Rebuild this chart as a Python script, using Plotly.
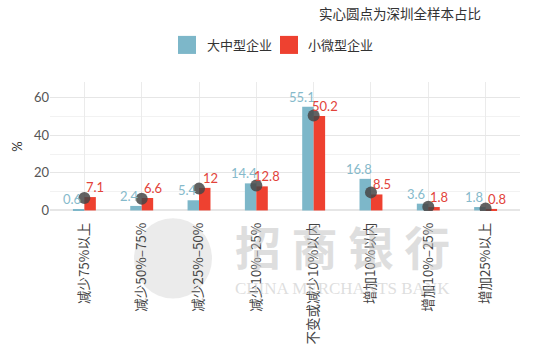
import plotly.graph_objects as go

categories = ["减少75%以上", "减少50%–75%", "减少25%–50%", "减少10%–25%",
              "不变或减少10%以内", "增加10%以内", "增加10%–25%", "增加25%以上"]
large_medium = [0.6, 2.4, 5.4, 14.4, 55.1, 16.8, 3.6, 1.8]
small_micro = [7.1, 6.6, 12.0, 12.8, 50.2, 8.5, 1.8, 0.8]
shenzhen_all = [6.6, 6.2, 11.6, 13.3, 50.5, 9.6, 2.0, 1.0]

BLUE = "#7DB7C9"
RED = "#EE4130"
BLUE_TXT = "#86BACB"
RED_TXT = "#E2433A"

fig = go.Figure()
fig.add_trace(go.Bar(x=categories, y=large_medium, name="大中型企业",
                     marker=dict(color=BLUE, line=dict(width=0)), showlegend=False))
fig.add_trace(go.Bar(x=categories, y=small_micro, name="小微型企业",
                     marker=dict(color=RED, line=dict(width=0)), showlegend=False))
fig.add_trace(go.Scatter(x=categories, y=shenzhen_all, mode="markers",
                         marker=dict(size=12, color="rgba(70,70,70,0.85)"),
                         showlegend=False))

anns = []
for c, v in zip(categories, large_medium):
    anns.append(dict(x=c, y=v, text=f"{v:g}", showarrow=False, xshift=-12, yshift=10,
                     font=dict(family="Lato", size=13, color=BLUE_TXT)))
for c, v in zip(categories, small_micro):
    anns.append(dict(x=c, y=v, text=f"{v:g}", showarrow=False, xshift=11, yshift=10,
                     font=dict(family="Lato", size=13, color=RED_TXT)))

# subtitle
anns.append(dict(xref="paper", yref="paper", x=(483 - 50) / 470, y=1 + (82 - 13) / 128.7,
                 xanchor="right", yanchor="middle", text="实心圆点为深圳全样本占比",
                 showarrow=False, font=dict(family="Noto Sans CJK SC", size=13.5, color="#333")))
# legend text
for xpx, t in [(205, "大中型企业"), (306, "小微型企业")]:
    anns.append(dict(xref="paper", yref="paper", x=(xpx - 50) / 470, y=1 + (82 - 45) / 128.7,
                     xanchor="left", yanchor="middle", text=t, showarrow=False,
                     font=dict(family="Noto Sans CJK SC", size=13, color="#333")))

# watermark (faint)
anns.append(dict(xref="paper", yref="paper", x=(342 - 50) / 470, y=1 - (245 - 82) / 128.7,
                 xanchor="center", yanchor="middle", text="<b>招 商 银 行</b>", showarrow=False,
                 font=dict(family="Noto Sans CJK SC", size=46, color="rgba(190,190,190,0.5)")))
anns.append(dict(xref="paper", yref="paper", x=(342 - 50) / 470, y=1 - (288 - 82) / 128.7,
                 xanchor="center", yanchor="middle", text="CHINA MERCHANTS BANK", showarrow=False,
                 font=dict(family="Liberation Serif", size=17, color="rgba(190,190,190,0.5)")))

shapes = []
for x0, col in [(178, BLUE), (280, RED)]:
    shapes.append(dict(type="rect", xref="paper", yref="paper",
                       x0=(x0 - 50) / 470, x1=(x0 + 18 - 50) / 470,
                       y0=1 + (82 - 54) / 128.7, y1=1 + (82 - 36) / 128.7,
                       fillcolor=col, line=dict(width=0)))
shapes.append(dict(type="circle", xref="paper", yref="paper", layer="below",
                   x0=(134 - 50) / 470, x1=(212 - 50) / 470,
                   y0=1 - (298 - 82) / 128.7, y1=1 - (218 - 82) / 128.7,
                   fillcolor="rgba(215,215,215,0.5)", line=dict(width=0)))

fig.update_layout(
    width=550, height=348,
    margin=dict(l=50, r=30, t=82, b=137),
    paper_bgcolor="white", plot_bgcolor="white",
    barmode="group", bargap=0.6, bargroupgap=0,
    annotations=anns, shapes=shapes,
    font=dict(family="Lato", color="#555"),
    xaxis=dict(showgrid=True, gridcolor="#ebebeb", gridwidth=1, tickangle=-90,
               tickfont=dict(family="Noto Sans CJK SC", size=13.5, color="#444"),
               ticklabelstandoff=8, automargin=False,
               showline=False, zeroline=False, ticks="", range=[-0.6, 7.6]),
    yaxis=dict(range=[-0.3, 68.3], tickvals=[0, 20, 40, 60], showgrid=True,
               gridcolor="#e6e6e6", gridwidth=1, zeroline=True, zerolinecolor="#e6e6e6",
               minor=dict(tickvals=[10, 30, 50], showgrid=True, gridcolor="#f2f2f2", gridwidth=1),
               tickfont=dict(family="Lato", size=13, color="#555"), automargin=False,
               title=dict(text="%", font=dict(family="Lato", size=13, color="#333"), standoff=8),
               showline=False, ticks=""),
)

fig.write_html("out.html")
